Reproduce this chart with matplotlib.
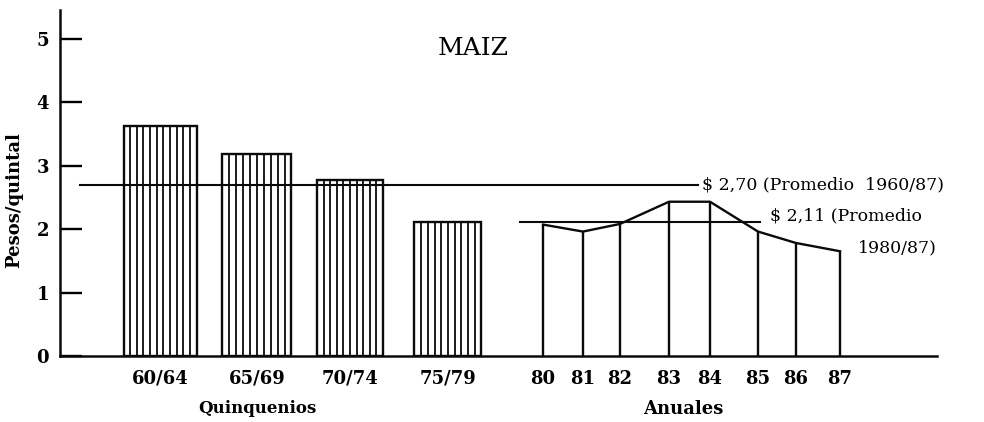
import numpy as np
import matplotlib.pyplot as plt

plt.rcParams['font.family'] = ['DejaVu Serif']

# Precio del maíz, pesos por quintal
quinquenios = ["60/64", "65/69", "70/74", "75/79"]
precio_quinq = [3.62, 3.18, 2.77, 2.11]

anios = ["80", "81", "82", "83", "84", "85", "86", "87"]
precio_anual = [2.07, 1.96, 2.08, 2.43, 2.43, 1.96, 1.78, 1.65]

prom_1960_87 = 2.70
prom_1980_87 = 2.11

# posiciones horizontales (unidades del eje = pixeles desde el eje y)
pos_quinq = [100, 197, 290, 388]
ancho_quinq = [73, 69, 66, 67]
pos_anual = [483, 523, 560, 609, 650, 698, 736, 780]

negro = '#0a0a0a'

fig = plt.figure(figsize=(9.84, 4.22), dpi=100)
ax = fig.add_axes([60 / 984, 66 / 422, 877 / 984, 346 / 422])
ax.set_xlim(0, 877)
ax.set_ylim(0, 5.45)

ax.bar(pos_quinq, precio_quinq, width=ancho_quinq, facecolor='white',
       edgecolor=negro, linewidth=1.7, zorder=2)
# rayado vertical dentro de cada barra
for x, w, h in zip(pos_quinq, ancho_quinq, precio_quinq):
    n = int(round(w / 6.6))
    xs = np.linspace(x - w / 2, x + w / 2, n + 1)[1:-1]
    ax.vlines(xs, 0, h, color=negro, linewidth=1.3, zorder=2)

# años: líneas verticales y poligonal uniendo los extremos
ax.vlines(pos_anual, 0, precio_anual, color=negro, linewidth=1.7, zorder=2)
ax.plot(pos_anual, precio_anual, color=negro, linewidth=1.7, zorder=2)

# promedios
ax.plot([20, 638], [prom_1960_87] * 2, color=negro, linewidth=1.5, zorder=3)
ax.plot([460, 700], [prom_1980_87] * 2, color=negro, linewidth=1.5, zorder=3)
ax.text(642, prom_1960_87, "$ 2,70 (Promedio  1960/87)", fontsize=12.5,
        va='center', ha='left')
ax.text(710, prom_1980_87 + 0.1, "$ 2,11 (Promedio", fontsize=12.5,
        va='center', ha='left')
ax.text(877, prom_1980_87 - 0.4, "1980/87)", fontsize=12.5,
        va='center', ha='right')

ax.text(413, 4.85, "MAIZ", fontsize=18, ha='center', va='center')

for s in ['top', 'right']:
    ax.spines[s].set_visible(False)
for s in ['left', 'bottom']:
    ax.spines[s].set_linewidth(1.8)
    ax.spines[s].set_color(negro)

ax.set_yticks(range(6))
ax.tick_params(axis='y', direction='in', length=16, width=1.7, pad=8,
               labelsize=13)
for lab in ax.get_yticklabels():
    lab.set_fontweight('bold')

ax.set_xticks(pos_quinq + pos_anual)
ax.set_xticklabels(quinquenios + anios, fontsize=13, fontweight='bold')
ax.tick_params(axis='x', length=0, pad=10)

ax.annotate("Quinquenios", xy=(197, 0), xycoords=('data', 'axes fraction'),
            xytext=(0, -38), textcoords='offset points', ha='center',
            va='center', fontsize=12, fontweight='bold')
ax.annotate("Anuales", xy=(623, 0), xycoords=('data', 'axes fraction'),
            xytext=(0, -38), textcoords='offset points', ha='center',
            va='center', fontsize=13, fontweight='bold')

fig.text(14 / 984, 1 - 200 / 422, "Pesos/quintal", rotation=90, ha='center',
         va='center', fontsize=13, fontweight='bold')

fig.savefig("out.png", dpi=100, facecolor='white')
